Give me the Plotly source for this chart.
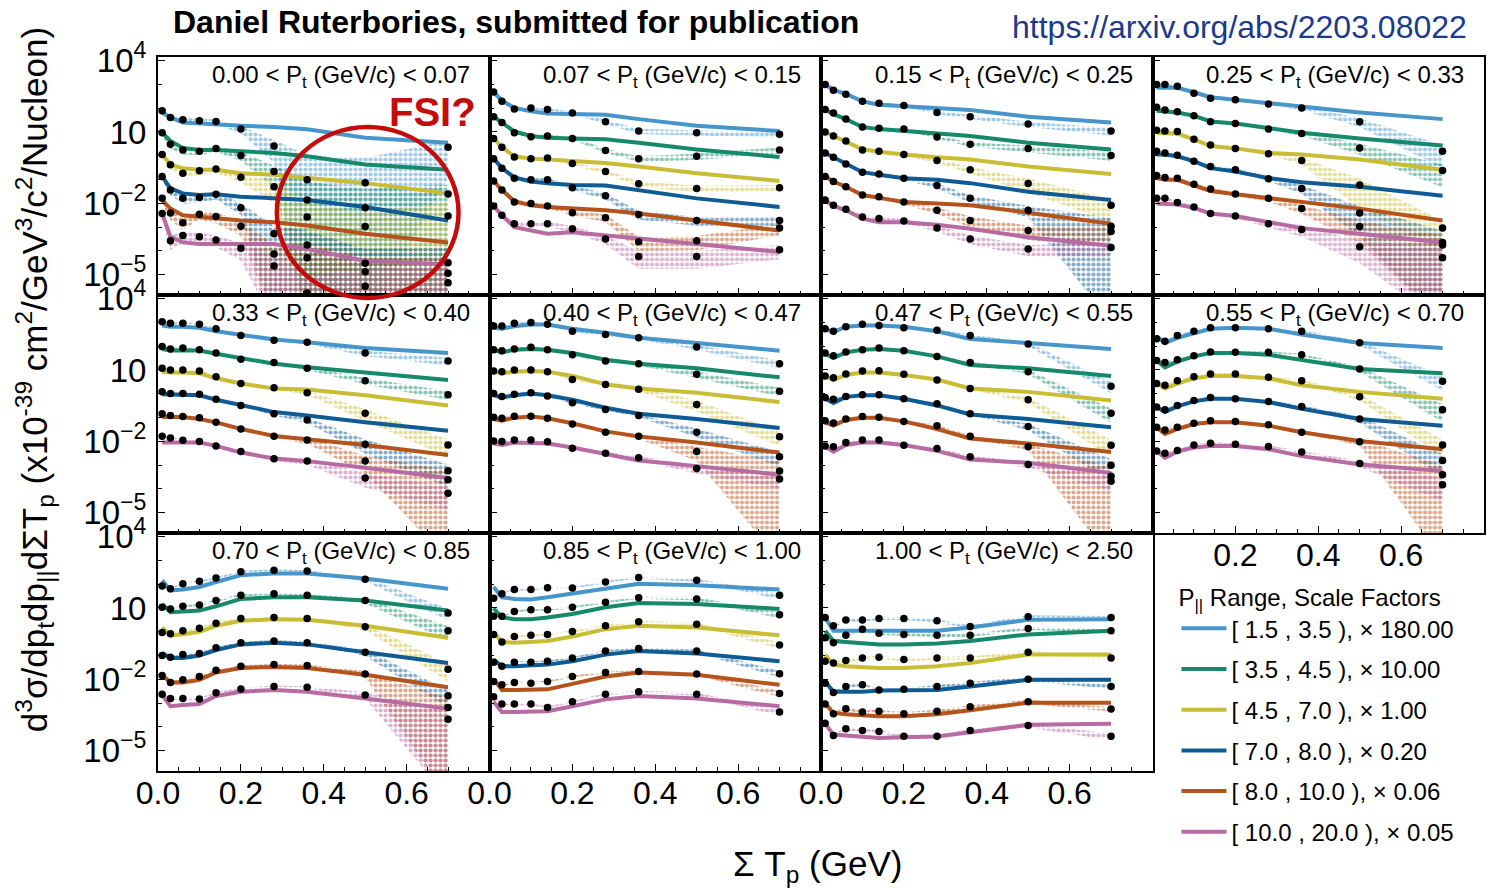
import numpy as np
import plotly.graph_objects as go
from plotly.subplots import make_subplots

# Bin centres in summed proton kinetic energy (GeV)
SUM_TP = [0.01, 0.03, 0.06, 0.10, 0.14, 0.20, 0.28, 0.36, 0.50, 0.70]

# Transverse-momentum bin edges (GeV/c), one panel per bin
PT_EDGES = ["0.00", "0.07", "0.15", "0.25", "0.33", "0.40", "0.47",
            "0.55", "0.70", "0.85", "1.00", "2.50"]

# Longitudinal-momentum ranges with their scale factors
PPAR_LABELS = ["[ 1.5 , 3.5 ), \u00d7 180.00", "[ 3.5 , 4.5 ), \u00d7 10.00",
               "[ 4.5 , 7.0 ), \u00d7 1.00", "[ 7.0 , 8.0 ), \u00d7 0.20",
               "[ 8.0 , 10.0 ), \u00d7 0.06", "[ 10.0 , 20.0 ), \u00d7 0.05"]
COLORS = ["#4695cb", "#15896a", "#c9bd35", "#0f5c94", "#b5531c", "#b86aa3"]

# log10 of the scaled cross section: measured points, model curves and
# fractional uncertainties, one row per P_|| range.
data_pt1 = [[1.89, 1.61, 1.51, 1.47, 1.44, 1.12, 0.41, -1.01, -1.13, 0.36],
            [0.97, 0.48, 0.24, 0.19, 0.31, 0.01, -0.66, -1.86, -2.18, -1.61],
            [0.05, -0.38, -0.73, -0.63, -0.56, -0.90, -1.30, -2.57, -2.97, -2.53],
            [-0.87, -1.44, -1.79, -1.75, -1.62, -2.18, -3.28, -3.75, -4.52, -4.49],
            [-1.79, -2.40, -2.81, -2.46, -2.55, -2.96, -4.13, -4.28, -4.87, -4.94],
            [-2.43, -3.57, -3.35, -3.40, -3.54, -3.89, -4.63, -5.77, -5.48, -5.34]]
mc_pt1 = [[1.82, 1.61, 1.40, 1.36, 1.30, 1.26, 1.21, 1.11, 0.76, 0.55],
          [0.97, 0.62, 0.33, 0.24, 0.24, 0.19, 0.12, -0.02, -0.37, -0.59],
          [0.05, -0.37, -0.52, -0.59, -0.59, -0.73, -0.80, -0.94, -1.15, -1.58],
          [-0.87, -1.37, -1.58, -1.65, -1.62, -1.72, -1.79, -1.86, -2.15, -2.72],
          [-1.86, -2.22, -2.50, -2.57, -2.64, -2.72, -2.79, -2.93, -3.28, -3.64],
          [-2.43, -3.40, -3.64, -3.71, -3.71, -3.71, -3.71, -3.92, -4.42, -4.56]]
err_pt1 = [[0.25, 0.25, 0.25, 0.25, 0.25, 0.35, 0.8, 10.0, 10.0, 0.95],
           [0.3, 0.35, 0.35, 0.3, 0.3, 0.4, 0.8, 5.0, 5.0, 1.5],
           [0.3, 0.35, 0.3, 0.3, 0.3, 0.4, 0.8, 3.0, 3.0, 3.0],
           [0.3, 0.4, 0.4, 0.4, 0.4, 0.5, 1.2, 3.0, 3.0, 3.0],
           [0.35, 0.5, 0.5, 0.4, 0.5, 0.6, 1.5, 3.0, 3.0, 3.0],
           [0.4, 0.6, 0.5, 0.5, 0.5, 0.7, 2.0, 4.0, 4.0, 4.0]]

data_pt2 = [[2.68, 2.29, 1.97, 2.01, 1.94, 1.80, 1.43, 1.04, 0.97, 0.90],
            [1.64, 1.40, 0.97, 0.80, 0.83, 0.73, 0.22, -0.13, -0.02, 0.24],
            [0.73, 0.36, -0.05, -0.13, -0.09, -0.33, -0.66, -1.18, -1.37, -1.34],
            [-0.12, -0.52, -0.94, -1.01, -1.01, -1.34, -1.68, -2.47, -2.72, -2.72],
            [-1.06, -1.44, -1.94, -2.01, -2.11, -2.39, -2.60, -3.61, -3.57, -3.04],
            [-2.11, -2.50, -2.86, -2.86, -2.86, -3.07, -3.50, -4.23, -4.23, -3.95]]
mc_pt2 = [[2.68, 2.32, 2.01, 1.87, 1.78, 1.75, 1.72, 1.54, 1.26, 1.04],
          [1.64, 1.40, 1.02, 0.83, 0.76, 0.73, 0.69, 0.55, 0.26, -0.05],
          [0.73, 0.36, -0.02, -0.12, -0.16, -0.23, -0.30, -0.45, -0.73, -1.06],
          [-0.12, -0.52, -0.91, -1.08, -1.15, -1.23, -1.25, -1.44, -1.79, -2.15],
          [-1.06, -1.44, -1.91, -2.08, -2.15, -2.22, -2.29, -2.43, -2.72, -3.14],
          [-2.11, -2.50, -3.00, -3.14, -3.28, -3.21, -3.35, -3.50, -3.71, -4.04]]
err_pt2 = [[0.15, 0.15, 0.15, 0.15, 0.15, 0.15, 0.2, 0.25, 0.25, 0.3],
           [0.15, 0.15, 0.15, 0.15, 0.15, 0.15, 0.2, 0.25, 0.3, 0.3],
           [0.15, 0.15, 0.15, 0.15, 0.15, 0.15, 0.2, 0.25, 0.3, 0.3],
           [0.15, 0.15, 0.2, 0.2, 0.2, 0.2, 0.3, 0.4, 0.4, 0.4],
           [0.2, 0.2, 0.2, 0.2, 0.2, 0.25, 0.35, 0.6, 0.6, 0.5],
           [0.2, 0.2, 0.25, 0.25, 0.25, 0.3, 0.4, 0.7, 0.7, 0.6]]

data_pt3 = [[2.99, 2.75, 2.58, 2.29, 2.21, 2.11, 1.82, 1.64, 1.33, 1.04],
            [1.94, 1.80, 1.54, 1.21, 1.16, 1.12, 0.79, 0.48, 0.31, 0.01],
            [1.00, 0.83, 0.62, 0.24, 0.19, 0.05, -0.20, -0.59, -1.16, -2.08],
            [0.12, -0.06, -0.35, -0.69, -0.77, -0.94, -1.25, -1.79, -2.29, -2.96],
            [-0.87, -1.08, -1.30, -1.65, -1.72, -1.94, -2.29, -2.72, -3.14, -3.18],
            [-1.86, -2.08, -2.25, -2.57, -2.64, -2.74, -3.04, -3.50, -3.92, -3.85]]
mc_pt3 = [[2.99, 2.77, 2.60, 2.29, 2.14, 2.07, 2.01, 1.92, 1.64, 1.40],
          [1.94, 1.75, 1.54, 1.21, 1.12, 1.04, 0.97, 0.83, 0.55, 0.26],
          [1.00, 0.83, 0.62, 0.27, 0.17, 0.05, -0.06, -0.16, -0.45, -0.77],
          [0.12, -0.06, -0.35, -0.69, -0.80, -0.94, -1.01, -1.15, -1.51, -1.86],
          [-0.87, -1.08, -1.30, -1.65, -1.77, -1.94, -2.01, -2.08, -2.39, -2.86],
          [-1.86, -2.11, -2.29, -2.64, -2.79, -2.79, -2.90, -3.07, -3.42, -3.78]]
err_pt3 = [[0.1, 0.1, 0.1, 0.1, 0.1, 0.1, 0.15, 0.2, 0.25, 0.35],
           [0.1, 0.1, 0.1, 0.1, 0.1, 0.1, 0.15, 0.2, 0.3, 0.4],
           [0.1, 0.1, 0.1, 0.1, 0.1, 0.15, 0.2, 0.3, 0.6, 0.8],
           [0.1, 0.1, 0.1, 0.15, 0.15, 0.15, 0.25, 0.35, 0.5, 1.2],
           [0.15, 0.15, 0.15, 0.15, 0.15, 0.2, 0.3, 0.5, 0.6, 0.8],
           [0.15, 0.15, 0.15, 0.2, 0.2, 0.2, 0.3, 0.4, 0.5, 0.6]]

data_pt4 = [[2.99, 2.99, 2.92, 2.63, 2.42, 2.35, 2.18, 2.01, 1.43, 0.19],
            [2.04, 1.92, 1.85, 1.68, 1.43, 1.36, 1.12, 0.94, 0.33, -0.62],
            [1.07, 1.04, 1.02, 0.69, 0.45, 0.31, 0.09, -0.20, -1.23, -3.03],
            [0.19, 0.12, 0.02, -0.23, -0.45, -0.59, -0.97, -1.37, -2.40, -3.64],
            [-0.83, -0.91, -0.94, -1.20, -1.40, -1.61, -1.79, -2.22, -2.97, -3.75],
            [-1.79, -1.79, -1.96, -2.15, -2.43, -2.53, -2.86, -3.10, -3.82, -4.28]]
mc_pt4 = [[2.86, 2.86, 2.86, 2.67, 2.46, 2.35, 2.21, 2.07, 1.82, 1.54],
          [1.89, 1.87, 1.82, 1.68, 1.44, 1.36, 1.16, 0.97, 0.73, 0.43],
          [0.97, 0.97, 0.93, 0.69, 0.41, 0.31, 0.12, 0.05, -0.16, -0.59],
          [0.05, 0.05, -0.02, -0.23, -0.52, -0.66, -0.94, -1.11, -1.30, -1.68],
          [-0.94, -1.01, -1.01, -1.23, -1.48, -1.62, -1.79, -1.94, -2.22, -2.72],
          [-2.01, -2.01, -2.05, -2.19, -2.43, -2.53, -2.79, -3.04, -3.28, -3.64]]
err_pt4 = [[0.1, 0.1, 0.1, 0.1, 0.1, 0.1, 0.15, 0.2, 0.4, 0.8],
           [0.1, 0.1, 0.1, 0.1, 0.1, 0.1, 0.15, 0.2, 0.5, 0.8],
           [0.1, 0.1, 0.1, 0.1, 0.1, 0.1, 0.15, 0.3, 0.9, 0.9],
           [0.1, 0.1, 0.1, 0.1, 0.15, 0.15, 0.2, 0.4, 0.9, 2.0],
           [0.15, 0.15, 0.15, 0.15, 0.15, 0.2, 0.25, 0.4, 0.8, 1.5],
           [0.15, 0.15, 0.15, 0.15, 0.2, 0.2, 0.3, 0.5, 0.8, 1.5]]

data_pt5 = [[3.03, 2.96, 2.96, 2.92, 2.73, 2.45, 2.25, 2.16, 1.71, 1.38],
            [1.99, 1.88, 1.92, 1.85, 1.71, 1.45, 1.31, 1.07, 0.55, -0.04],
            [1.07, 1.00, 1.00, 0.96, 0.72, 0.43, 0.25, 0.04, -0.82, -2.15],
            [0.08, 0.01, 0.01, -0.02, -0.23, -0.49, -0.84, -1.10, -2.12, -3.23],
            [-0.84, -0.91, -0.96, -1.01, -1.20, -1.48, -1.79, -1.94, -2.83, -3.61],
            [-1.79, -1.86, -1.95, -2.01, -2.19, -2.43, -2.73, -2.83, -3.54, -4.18]]
mc_pt5 = [[2.87, 2.82, 2.82, 2.77, 2.63, 2.49, 2.28, 2.16, 1.92, 1.71],
          [1.88, 1.82, 1.82, 1.82, 1.68, 1.50, 1.26, 1.11, 0.89, 0.58],
          [0.93, 0.89, 0.89, 0.86, 0.65, 0.43, 0.22, 0.18, -0.06, -0.49],
          [-0.02, -0.02, -0.02, -0.06, -0.25, -0.49, -0.77, -0.91, -1.20, -1.55],
          [-0.98, -0.98, -0.98, -1.06, -1.20, -1.48, -1.77, -1.91, -2.15, -2.57],
          [-2.05, -2.05, -2.01, -2.05, -2.19, -2.47, -2.72, -2.83, -3.11, -3.54]]
err_pt5 = [[0.1, 0.1, 0.1, 0.1, 0.1, 0.1, 0.1, 0.15, 0.25, 0.35],
           [0.1, 0.1, 0.1, 0.1, 0.1, 0.1, 0.1, 0.15, 0.3, 0.4],
           [0.1, 0.1, 0.1, 0.1, 0.1, 0.1, 0.1, 0.2, 0.5, 0.7],
           [0.1, 0.1, 0.1, 0.1, 0.1, 0.1, 0.15, 0.25, 0.6, 0.8],
           [0.1, 0.1, 0.1, 0.1, 0.1, 0.1, 0.15, 0.3, 0.7, 1.5],
           [0.1, 0.1, 0.1, 0.1, 0.1, 0.15, 0.2, 0.3, 0.6, 0.8]]

data_pt6 = [[2.85, 2.85, 2.96, 2.99, 2.92, 2.63, 2.49, 2.35, 1.97, 1.26],
            [1.85, 1.81, 1.88, 1.95, 1.85, 1.64, 1.38, 1.26, 0.82, 0.11],
            [0.96, 0.93, 1.00, 1.00, 0.93, 0.60, 0.39, 0.19, -0.45, -1.81],
            [0.01, -0.11, -0.02, 0.04, -0.09, -0.38, -0.66, -0.91, -1.62, -2.65],
            [-0.99, -1.03, -0.94, -0.94, -1.03, -1.27, -1.62, -1.79, -2.43, -3.25],
            [-1.98, -2.01, -1.94, -1.94, -2.02, -2.29, -2.50, -2.69, -3.14, -3.58]]
mc_pt6 = [[2.77, 2.73, 2.84, 2.91, 2.91, 2.73, 2.56, 2.35, 2.13, 1.81],
          [1.85, 1.74, 1.85, 1.88, 1.85, 1.71, 1.43, 1.26, 1.07, 0.69],
          [0.93, 0.86, 0.93, 0.96, 0.93, 0.75, 0.40, 0.22, 0.04, -0.35],
          [-0.06, -0.16, -0.06, 0.01, -0.06, -0.25, -0.59, -0.84, -1.06, -1.44],
          [-1.06, -1.13, -1.01, -0.96, -1.03, -1.24, -1.58, -1.79, -2.05, -2.47],
          [-2.09, -2.15, -2.05, -2.05, -2.09, -2.26, -2.55, -2.80, -3.04, -3.40]]
err_pt6 = [[0.1, 0.1, 0.1, 0.1, 0.1, 0.1, 0.1, 0.15, 0.25, 0.35],
           [0.1, 0.1, 0.1, 0.1, 0.1, 0.1, 0.1, 0.15, 0.3, 0.4],
           [0.1, 0.1, 0.1, 0.1, 0.1, 0.1, 0.1, 0.15, 0.5, 0.6],
           [0.1, 0.1, 0.1, 0.1, 0.1, 0.1, 0.1, 0.15, 0.4, 0.6],
           [0.1, 0.1, 0.1, 0.1, 0.1, 0.1, 0.1, 0.2, 0.6, 1.5],
           [0.1, 0.1, 0.1, 0.1, 0.1, 0.1, 0.1, 0.2, 0.4, 0.6]]

data_pt7 = [[2.73, 2.63, 2.82, 2.92, 2.87, 2.77, 2.67, 2.45, 2.09, 0.32],
            [1.71, 1.60, 1.75, 1.85, 1.92, 1.81, 1.57, 1.31, 0.93, -0.82],
            [0.75, 0.67, 0.83, 0.96, 0.97, 0.82, 0.58, 0.22, -0.25, -2.16],
            [-0.16, -0.23, -0.11, -0.04, -0.04, -0.21, -0.42, -0.84, -1.38, -3.00],
            [-1.13, -1.23, -1.06, -0.96, -0.99, -1.16, -1.34, -1.79, -2.23, -3.47],
            [-2.19, -2.23, -2.05, -1.94, -1.94, -2.16, -2.30, -2.65, -2.97, -3.68]]
mc_pt7 = [[2.73, 2.59, 2.82, 2.87, 2.87, 2.82, 2.63, 2.30, 2.13, 1.88],
          [1.68, 1.50, 1.74, 1.85, 1.88, 1.81, 1.57, 1.21, 1.07, 0.75],
          [0.75, 0.58, 0.79, 0.89, 0.89, 0.79, 0.60, 0.22, 0.08, -0.28],
          [-0.21, -0.39, -0.13, -0.06, -0.06, -0.21, -0.49, -0.87, -1.06, -1.41],
          [-1.20, -1.34, -1.10, -1.01, -1.01, -1.16, -1.48, -1.88, -2.09, -2.45],
          [-2.23, -2.43, -2.15, -2.05, -2.05, -2.15, -2.40, -2.76, -2.90, -3.33]]
err_pt7 = [[0.1, 0.1, 0.1, 0.1, 0.1, 0.1, 0.1, 0.1, 0.2, 0.5],
           [0.1, 0.1, 0.1, 0.1, 0.1, 0.1, 0.1, 0.1, 0.2, 0.6],
           [0.1, 0.1, 0.1, 0.1, 0.1, 0.1, 0.1, 0.1, 0.25, 0.7],
           [0.1, 0.1, 0.1, 0.1, 0.1, 0.1, 0.1, 0.1, 0.3, 0.8],
           [0.1, 0.1, 0.1, 0.1, 0.1, 0.1, 0.1, 0.1, 0.3, 1.5],
           [0.1, 0.1, 0.1, 0.1, 0.1, 0.1, 0.1, 0.1, 0.3, 0.6]]

data_pt8 = [[2.31, 2.21, 2.45, 2.63, 2.77, 2.77, 2.73, 2.63, 2.14, 0.53],
            [1.40, 1.31, 1.43, 1.60, 1.75, 1.74, 1.74, 1.64, 1.04, -0.67],
            [0.43, 0.36, 0.55, 0.72, 0.83, 0.83, 0.69, 0.55, -0.13, -2.15],
            [-0.56, -0.67, -0.49, -0.28, -0.16, -0.21, -0.32, -0.53, -1.06, -2.80],
            [-1.41, -1.52, -1.41, -1.24, -1.13, -1.16, -1.30, -1.62, -2.02, -3.40],
            [-2.40, -2.50, -2.38, -2.15, -2.08, -2.12, -2.22, -2.45, -2.93, -3.82]]
mc_pt8 = [[2.42, 2.13, 2.35, 2.56, 2.73, 2.77, 2.73, 2.49, 2.13, 1.92],
          [1.40, 1.11, 1.35, 1.57, 1.71, 1.71, 1.64, 1.43, 1.04, 0.86],
          [0.43, 0.22, 0.43, 0.65, 0.75, 0.75, 0.65, 0.36, 0.08, -0.21],
          [-0.56, -0.77, -0.53, -0.32, -0.21, -0.21, -0.35, -0.63, -1.06, -1.34],
          [-1.41, -1.69, -1.48, -1.27, -1.20, -1.20, -1.34, -1.62, -1.98, -2.33],
          [-2.40, -2.69, -2.43, -2.26, -2.19, -2.19, -2.33, -2.62, -2.97, -3.25]]
err_pt8 = [[0.1, 0.1, 0.1, 0.1, 0.1, 0.1, 0.1, 0.1, 0.2, 0.6],
           [0.1, 0.1, 0.1, 0.1, 0.1, 0.1, 0.1, 0.1, 0.25, 0.7],
           [0.1, 0.1, 0.1, 0.1, 0.1, 0.1, 0.1, 0.1, 0.3, 0.7],
           [0.1, 0.1, 0.1, 0.1, 0.1, 0.1, 0.1, 0.1, 0.3, 0.8],
           [0.1, 0.1, 0.1, 0.1, 0.1, 0.1, 0.1, 0.1, 0.3, 1.5],
           [0.1, 0.1, 0.1, 0.1, 0.1, 0.1, 0.1, 0.1, 0.3, 0.8]]

data_pt9 = [[1.92, 1.81, 2.02, 2.12, 2.26, 2.52, 2.59, 2.55, 2.21, 0.79],
            [1.03, 0.96, 1.07, 1.13, 1.31, 1.53, 1.60, 1.53, 1.31, 0.04],
            [-0.03, -0.08, 0.04, 0.15, 0.36, 0.56, 0.60, 0.56, 0.21, -1.57],
            [-1.00, -1.07, -0.96, -0.91, -0.67, -0.46, -0.39, -0.46, -0.86, -2.69],
            [-1.84, -2.13, -2.02, -1.88, -1.62, -1.45, -1.38, -1.42, -1.77, -3.18],
            [-2.62, -2.80, -2.80, -2.83, -2.56, -2.40, -2.30, -2.33, -2.66, -3.68]]
mc_pt9 = [[2.16, 1.74, 1.78, 1.88, 2.09, 2.38, 2.45, 2.45, 2.24, 1.81],
          [1.17, 0.82, 0.85, 0.89, 1.07, 1.38, 1.45, 1.45, 1.31, 0.89],
          [0.18, -0.15, -0.10, 0.00, 0.25, 0.46, 0.53, 0.50, 0.25, -0.25],
          [-0.89, -1.10, -1.10, -1.00, -0.77, -0.53, -0.46, -0.53, -0.86, -1.31],
          [-1.81, -2.13, -2.13, -2.02, -1.71, -1.52, -1.48, -1.52, -1.81, -2.33],
          [-2.66, -3.13, -3.08, -3.04, -2.70, -2.52, -2.45, -2.52, -2.80, -3.23]]
err_pt9 = [[0.1, 0.1, 0.1, 0.1, 0.1, 0.1, 0.1, 0.1, 0.2, 0.5],
           [0.1, 0.1, 0.1, 0.1, 0.1, 0.1, 0.1, 0.1, 0.25, 0.6],
           [0.1, 0.1, 0.1, 0.1, 0.1, 0.1, 0.1, 0.1, 0.3, 0.7],
           [0.1, 0.1, 0.1, 0.1, 0.1, 0.1, 0.1, 0.1, 0.3, 0.7],
           [0.1, 0.1, 0.1, 0.1, 0.1, 0.1, 0.1, 0.1, 0.3, 1.5],
           [0.1, 0.1, 0.1, 0.1, 0.1, 0.1, 0.1, 0.1, 0.3, 1.2]]

data_pt10 = [[1.41, 1.60, 1.78, 1.78, 1.85, 1.84, 2.09, 2.28, 2.16, 1.53],
             [0.65, 0.65, 0.85, 0.93, 0.93, 1.03, 1.24, 1.43, 1.38, 0.72],
             [-0.11, -0.43, -0.20, -0.15, -0.11, 0.01, 0.25, 0.42, 0.32, -0.56],
             [-1.28, -1.45, -1.28, -1.28, -1.24, -1.10, -0.81, -0.70, -0.81, -1.76],
             [-2.09, -2.23, -2.13, -2.16, -2.09, -1.88, -1.71, -1.67, -1.77, -2.59],
             [-2.73, -3.04, -3.04, -3.04, -3.18, -2.94, -2.62, -2.52, -2.62, -3.37]]
mc_pt10 = [[1.88, 1.45, 1.38, 1.36, 1.45, 1.60, 1.84, 2.02, 1.95, 1.78],
           [0.99, 0.60, 0.53, 0.53, 0.60, 0.75, 1.03, 1.21, 1.17, 0.96],
           [-0.03, -0.43, -0.46, -0.43, -0.39, -0.20, 0.11, 0.25, 0.18, -0.15],
           [-1.17, -1.45, -1.45, -1.42, -1.38, -1.24, -0.96, -0.81, -0.91, -1.24],
           [-1.99, -2.45, -2.45, -2.45, -2.42, -2.19, -1.88, -1.71, -1.81, -2.23],
           [-2.94, -3.37, -3.37, -3.37, -3.34, -3.13, -2.84, -2.70, -2.80, -3.13]]
err_pt10 = [[0.1, 0.1, 0.1, 0.1, 0.1, 0.1, 0.1, 0.1, 0.15, 0.3],
            [0.1, 0.1, 0.1, 0.1, 0.1, 0.1, 0.1, 0.1, 0.15, 0.3],
            [0.1, 0.1, 0.1, 0.1, 0.1, 0.1, 0.1, 0.1, 0.15, 0.3],
            [0.1, 0.1, 0.1, 0.1, 0.1, 0.1, 0.1, 0.1, 0.15, 0.3],
            [0.1, 0.1, 0.1, 0.1, 0.1, 0.1, 0.1, 0.1, 0.15, 0.3],
            [0.1, 0.1, 0.1, 0.1, 0.1, 0.1, 0.1, 0.1, 0.15, 0.3]]

data_pt11 = [[0.60, 0.25, 0.49, 0.49, 0.56, 0.56, 0.46, 0.22, 0.63, 0.60],
             [-0.25, -0.46, -0.15, 0.11, -0.06, -0.11, -0.15, -0.15, 0.14, 0.04],
             [-1.24, -1.31, -1.21, -1.10, -1.07, -1.17, -1.10, -1.10, -0.86, -1.10],
             [-2.16, -2.55, -2.30, -2.23, -2.45, -2.42, -2.30, -2.16, -1.99, -2.30],
             [-3.04, -3.44, -3.23, -3.37, -3.34, -3.44, -3.34, -3.15, -2.94, -3.25],
             [-3.84, -4.36, -4.08, -4.15, -4.19, -4.39, -4.39, -4.15, -3.94, -4.39]]
mc_pt11 = [[0.60, 0.04, 0.04, 0.04, 0.04, 0.04, 0.04, 0.18, 0.50, 0.53],
           [0.04, -0.39, -0.43, -0.49, -0.53, -0.53, -0.49, -0.39, -0.11, 0.04],
           [-0.96, -1.38, -1.45, -1.48, -1.52, -1.52, -1.45, -1.31, -0.96, -0.96],
           [-2.09, -2.52, -2.52, -2.52, -2.47, -2.47, -2.45, -2.30, -2.02, -2.02],
           [-3.01, -3.41, -3.47, -3.51, -3.55, -3.55, -3.47, -3.30, -2.98, -2.98],
           [-3.86, -4.32, -4.36, -4.40, -4.46, -4.43, -4.40, -4.22, -3.91, -3.86]]
err_pt11 = [[0.15, 0.15, 0.15, 0.15, 0.15, 0.15, 0.15, 0.15, 0.15, 0.15],
            [0.15, 0.15, 0.15, 0.15, 0.15, 0.15, 0.15, 0.15, 0.15, 0.15],
            [0.15, 0.15, 0.15, 0.15, 0.15, 0.15, 0.15, 0.15, 0.15, 0.15],
            [0.15, 0.15, 0.15, 0.15, 0.15, 0.15, 0.15, 0.15, 0.2, 0.2],
            [0.15, 0.15, 0.15, 0.15, 0.15, 0.15, 0.15, 0.15, 0.2, 0.2],
            [0.15, 0.15, 0.15, 0.15, 0.15, 0.15, 0.15, 0.15, 0.2, 0.3]]

PANEL_DATA = [data_pt1, data_pt2, data_pt3, data_pt4, data_pt5, data_pt6,
              data_pt7, data_pt8, data_pt9, data_pt10, data_pt11]
PANEL_MC = [mc_pt1, mc_pt2, mc_pt3, mc_pt4, mc_pt5, mc_pt6,
            mc_pt7, mc_pt8, mc_pt9, mc_pt10, mc_pt11]
PANEL_ERR = [err_pt1, err_pt2, err_pt3, err_pt4, err_pt5, err_pt6,
             err_pt7, err_pt8, err_pt9, err_pt10, err_pt11]

FONT = "Liberation Sans, Arial, Helvetica, sans-serif"
RED = "#c40c0c"
W, H = 1497, 888
L, R, T, B = 158, 11, 57, 117
PLOT_W, PLOT_H = W - L - R, H - T - B


def paper_x(px):
    return (px - L) / PLOT_W


def paper_y(py):
    return 1 - (py - T) / PLOT_H


fig = make_subplots(rows=3, cols=4, horizontal_spacing=0, vertical_spacing=0)

for i in range(11):
    row, col = i // 4 + 1, i % 4 + 1
    data, mc, err = PANEL_DATA[i], PANEL_MC[i], PANEL_ERR[i]
    # uncertainty bands (hatched)
    for k in range(6):
        y = 10 ** np.array(data[k])
        e = np.array(err[k])
        upper = y * (1 + e)
        lower = np.clip(y * (1 - e), 1e-7, None)
        fig.add_trace(go.Scatter(
            x=SUM_TP + SUM_TP[::-1],
            y=list(upper) + list(lower[::-1]),
            fill="toself", mode="lines", line=dict(width=0),
            fillcolor="rgba(0,0,0,0)",
            fillpattern=dict(shape=".", fgcolor=COLORS[k],
                             bgcolor="rgba(0,0,0,0)", size=5, solidity=0.55,
                             fillmode="overlay"),
            hoverinfo="skip", showlegend=False), row=row, col=col)
    # model curves
    for k in range(6):
        fig.add_trace(go.Scatter(
            x=SUM_TP, y=10 ** np.array(mc[k]), mode="lines",
            line=dict(color=COLORS[k], width=4),
            name=PPAR_LABELS[k], legendgroup=str(k),
            showlegend=(i == 0)), row=row, col=col)
    # measured points
    for k in range(6):
        fig.add_trace(go.Scatter(
            x=SUM_TP, y=10 ** np.array(data[k]), mode="markers",
            marker=dict(color="black", size=7.5),
            showlegend=False, cliponaxis=False), row=row, col=col)

Y_TICKS = [1e-5, 1e-2, 10, 1e4]
Y_TEXT = ["10<sup>\u22125</sup>", "10<sup>\u22122</sup>", "10", "10<sup>4</sup>"]
Y_MINOR = [10.0 ** p for p in range(-5, 5)]

for i in range(12):
    row, col = i // 4 + 1, i % 4 + 1
    if i == 11:
        fig.update_xaxes(visible=False, row=row, col=col)
        fig.update_yaxes(visible=False, row=row, col=col)
        continue
    bottom = row == 3 or (row == 2 and col == 4)
    xtext = ["0.0", "0.2", "0.4", "0.6"] if col < 4 else ["", "0.2", "0.4", "0.6"]
    fig.update_xaxes(
        range=[0, 0.8], showgrid=False, zeroline=False,
        showline=True, mirror=True, linecolor="black", linewidth=2,
        ticks="inside", ticklen=7, tickwidth=1.2, tickcolor="black",
        tickvals=[0, 0.2, 0.4, 0.6], ticktext=xtext,
        showticklabels=bottom, ticklabelstandoff=-7,
        tickfont=dict(size=32, color="black", family=FONT),
        minor=dict(dtick=0.05, tick0=0, ticks="inside", ticklen=4,
                   tickcolor="black", tickwidth=1),
        row=row, col=col)
    fig.update_yaxes(
        type="log", range=[-5.85, 4.15], showgrid=False, zeroline=False,
        showline=True, mirror=True, linecolor="black", linewidth=2,
        ticks="inside", ticklen=7, tickwidth=1.2, tickcolor="black",
        tickvals=Y_TICKS, ticktext=Y_TEXT, showticklabels=(col == 1),
        ticklabelstandoff=3,
        tickfont=dict(size=33, color="black", family=FONT),
        minor=dict(tickvals=Y_MINOR, ticks="inside", ticklen=4,
                   tickcolor="black", tickwidth=1),
        row=row, col=col)

# P_t bin labels
for i in range(11):
    ax = "x" if i == 0 else f"x{i + 1}"
    ay = "y" if i == 0 else f"y{i + 1}"
    fig.add_annotation(
        xref=f"{ax} domain", yref=f"{ay} domain", x=0.947, y=0.99,
        xanchor="right", yanchor="top", showarrow=False,
        text=f"{PT_EDGES[i]} < P<sub>t</sub> (GeV/c) < {PT_EDGES[i + 1]}",
        font=dict(size=24, color="black", family=FONT))

# Header texts
fig.add_annotation(
    xref="paper", yref="paper", x=paper_x(171), y=paper_y(22),
    xanchor="left", yanchor="middle", showarrow=False,
    text="<b>Daniel Ruterbories, submitted for publication</b>",
    font=dict(size=32, color="black", family=FONT))
fig.add_annotation(
    xref="paper", yref="paper", x=paper_x(1471), y=paper_y(27),
    xanchor="right", yanchor="middle", showarrow=False,
    text="https://arxiv.org/abs/2203.08022",
    font=dict(size=32, color="#1c3a8c", family=FONT))

# Axis titles
fig.add_annotation(
    xref="paper", yref="paper", x=paper_x(35), y=paper_y(380),
    xanchor="center", yanchor="middle", showarrow=False, textangle=-90,
    text=("d<sup>3</sup>\u03c3/dp<sub>t</sub>dp<sub>||</sub>d\u03a3T<sub>p</sub>"
          " (x10<sup>-39</sup> cm<sup>2</sup>/GeV<sup>3</sup>/c<sup>2</sup>/Nucleon)"),
    font=dict(size=35, color="black", family=FONT))
fig.add_annotation(
    xref="paper", yref="paper", x=paper_x(818), y=paper_y(866),
    xanchor="center", yanchor="middle", showarrow=False,
    text="\u03a3 T<sub>p</sub> (GeV)",
    font=dict(size=35, color="black", family=FONT))

# Final-state-interaction highlight
fig.add_shape(type="circle", xref="paper", yref="paper",
              x0=paper_x(277), x1=paper_x(459), y0=paper_y(298), y1=paper_y(127),
              line=dict(color=RED, width=4.5))
fig.add_annotation(
    xref="paper", yref="paper", x=paper_x(433), y=paper_y(112),
    xanchor="center", yanchor="middle", showarrow=False,
    text="<b>FSI?</b>", font=dict(size=40, color=RED, family=FONT))

fig.update_layout(
    width=W, height=H,
    margin=dict(l=L, r=R, t=T, b=B),
    paper_bgcolor="white", plot_bgcolor="white",
    font=dict(family=FONT, color="black"),
    legend=dict(
        x=paper_x(1178), y=paper_y(575), xanchor="left", yanchor="top",
        title=dict(text="P<sub>||</sub> Range, Scale Factors",
                   font=dict(size=24, family=FONT, color="black")),
        font=dict(size=24, family=FONT, color="black"),
        itemwidth=45, tracegroupgap=6.5, bgcolor="rgba(0,0,0,0)"),
)

fig.write_html("out.html")
